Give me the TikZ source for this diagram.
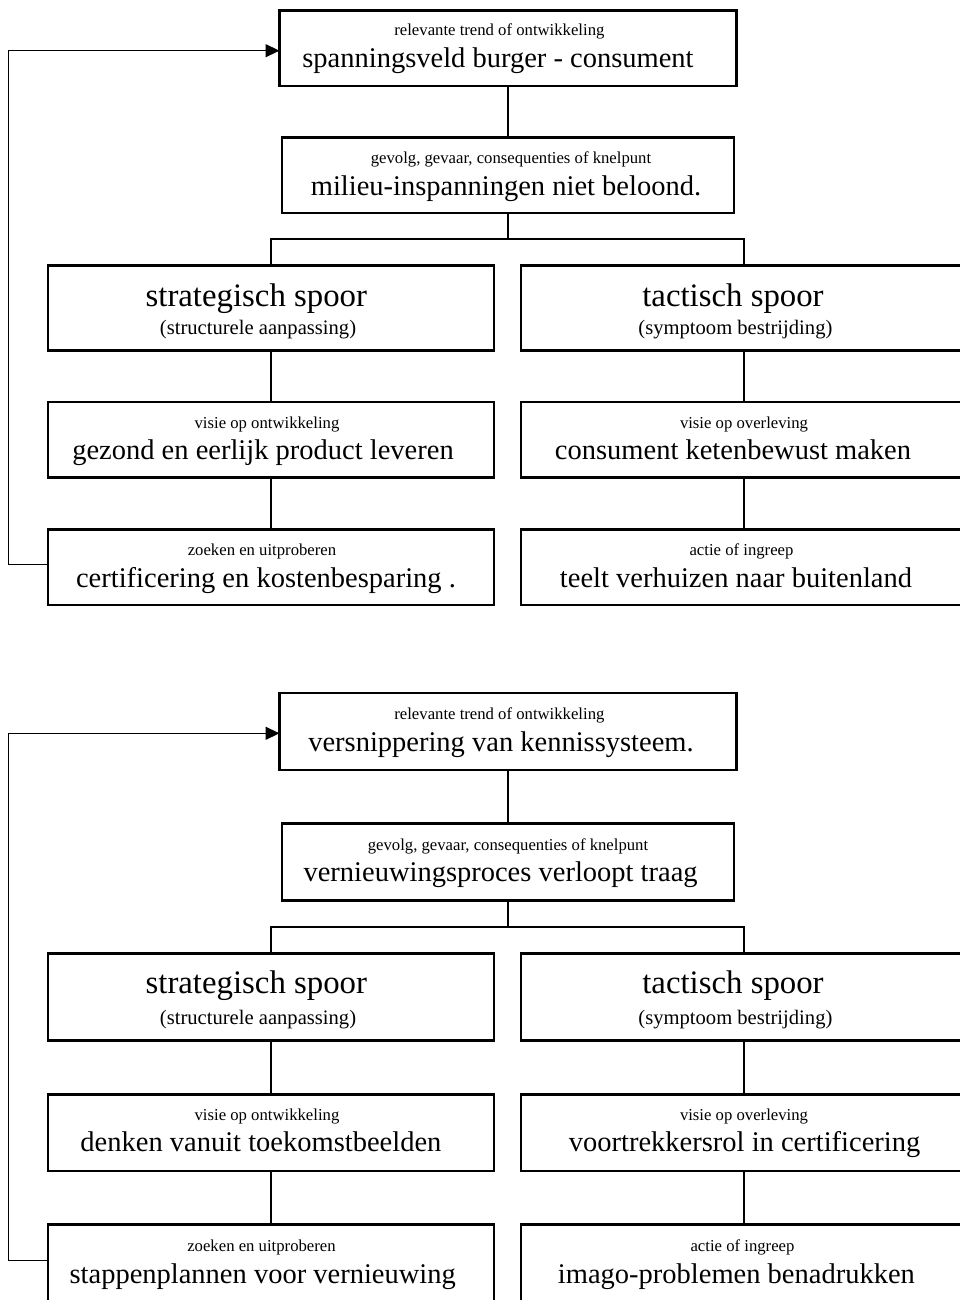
\documentclass[tikz,border=0pt]{standalone}
\usepackage{fontspec}
\setmainfont{Liberation Serif}
\usetikzlibrary{arrows.meta}
\tikzset{
  box/.style={draw, rectangle, line width=2.5pt, inner sep=0pt, outer sep=0pt, anchor=north west},
  conn/.style={line width=2pt},
  fb/.style={line width=1.3pt, -{Triangle[length=14pt,width=13pt]}},
  small/.style={anchor=base, inner sep=0pt, font=\fontsize{16.7}{20}\selectfont},
  big/.style={anchor=base, inner sep=0pt, font=\fontsize{28.5}{32}\selectfont},
  head/.style={anchor=base, inner sep=0pt, font=\fontsize{32.8}{38}\selectfont},
  sub/.style={anchor=base, inner sep=0pt, font=\fontsize{20.6}{24}\selectfont},
}
\begin{document}
\begin{tikzpicture}[x=1pt,y=-1pt]
\useasboundingbox (0,0) rectangle (959,1300);
% ---------- top diagram ----------
\node[box, minimum width=457pt, minimum height=75.5pt] (aB1) at (279.5,10.5) {};
\node[box, minimum width=452pt, minimum height=75.5pt] (aB2) at (282,137.5) {};
\node[box, minimum width=446pt, minimum height=85pt] (aS3) at (48,265.5) {};
\node[box, minimum width=446pt, minimum height=85pt] (aT3) at (521,265.5) {};
\node[box, minimum width=446pt, minimum height=75.5pt] (aS4) at (48,402) {};
\node[box, minimum width=446pt, minimum height=75.5pt] (aT4) at (521,402) {};
\node[box, minimum width=446pt, minimum height=75.5pt] (aS5) at (48,529.5) {};
\node[box, minimum width=446pt, minimum height=75.5pt] (aT5) at (521,529.5) {};

\node[small] (aB1s) at (499.4,36) {relevante trend of ontwikkeling};
\node[big] (aB1b) at (498,68) {spanningsveld burger - consument};
\node[small] (aB2s) at (511,163.5) {gevolg, gevaar, consequenties of knelpunt};
\node[big] (aB2b) at (506,195) {milieu-inspanningen niet beloond.};
\node[head] (aS3h) at (256.3,306) {strategisch spoor};
\node[sub] (aS3s) at (258,334) {(structurele aanpassing)};
\node[head] (aT3h) at (733,306) {tactisch spoor};
\node[sub] (aT3s) at (735.4,334) {(symptoom bestrijding)};
\node[small] (aS4s) at (267,428.3) {visie op ontwikkeling};
\node[big] (aS4b) at (263,459.3) {gezond en eerlijk product leveren};
\node[small] (aT4s) at (744,428.3) {visie op overleving};
\node[big] (aT4b) at (733,459.3) {consument ketenbewust maken};
\node[small] (aS5s) at (262,555) {zoeken en uitproberen};
\node[big] (aS5b) at (266,587.7) {certificering en kostenbesparing .};
\node[small] (aT5s) at (741.5,555) {actie of ingreep};
\node[big] (aT5b) at (736,587.7) {teelt verhuizen naar buitenland};

\coordinate (aJ) at (508,239);
\draw[conn] (aB1.south) -- (aB2.north);
\draw[conn] (aB2.south) -- (aB2.south |- aJ);
\draw[conn] (aS3.north) |- (aJ) -| (aT3.north);
\draw[conn] (aS3.south) -- (aS4.north);
\draw[conn] (aS4.south) -- (aS5.north);
\draw[conn] (aT3.south) -- (aT4.north);
\draw[conn] (aT4.south) -- (aT5.north);
\coordinate (aF1) at (8.5,564.5);
\coordinate (aF2) at (8.5,50.7);
\draw[fb] (aS5.west |- aF1) -- (aF1) -- (aF2) -- (aB1.west |- aF2);

% ---------- bottom diagram ----------
\node[box, minimum width=457pt, minimum height=77pt] (bB1) at (279.5,693) {};
\node[box, minimum width=452pt, minimum height=77pt] (bB2) at (282,823.5) {};
\node[box, minimum width=446pt, minimum height=87pt] (bS3) at (48,953.5) {};
\node[box, minimum width=446pt, minimum height=87pt] (bT3) at (521,953.5) {};
\node[box, minimum width=446pt, minimum height=76.5pt] (bS4) at (48,1094.5) {};
\node[box, minimum width=446pt, minimum height=76.5pt] (bT4) at (521,1094.5) {};
\node[box, minimum width=446pt, minimum height=78pt] (bS5) at (48,1224.5) {};
\node[box, minimum width=446pt, minimum height=78pt] (bT5) at (521,1224.5) {};

\node[small] (bB1s) at (499.4,719) {relevante trend of ontwikkeling};
\node[big] (bB1b) at (501,751.7) {versnippering van kennissysteem.};
\node[small] (bB2s) at (508,850) {gevolg, gevaar, consequenties of knelpunt};
\node[big] (bB2b) at (500.6,881.7) {vernieuwingsproces verloopt traag};
\node[head] (bS3h) at (256.3,993.5) {strategisch spoor};
\node[sub] (bS3s) at (258,1024.5) {(structurele aanpassing)};
\node[head] (bT3h) at (733,993.5) {tactisch spoor};
\node[sub] (bT3s) at (735.4,1024.5) {(symptoom bestrijding)};
\node[small] (bS4s) at (267,1120) {visie op ontwikkeling};
\node[big] (bS4b) at (260.9,1151.7) {denken vanuit toekomstbeelden};
\node[small] (bT4s) at (744,1120) {visie op overleving};
\node[big] (bT4b) at (744.6,1151.7) {voortrekkersrol in certificering};
\node[small] (bS5s) at (261.5,1251) {zoeken en uitproberen};
\node[big] (bS5b) at (262.7,1283.3) {stappenplannen voor vernieuwing};
\node[small] (bT5s) at (742.5,1251) {actie of ingreep};
\node[big] (bT5b) at (736.4,1283.3) {imago-problemen benadrukken};

\coordinate (bJ) at (508,926.5);
\draw[conn] (bB1.south) -- (bB2.north);
\draw[conn] (bB2.south) -- (bB2.south |- bJ);
\draw[conn] (bS3.north) |- (bJ) -| (bT3.north);
\draw[conn] (bS3.south) -- (bS4.north);
\draw[conn] (bS4.south) -- (bS5.north);
\draw[conn] (bT3.south) -- (bT4.north);
\draw[conn] (bT4.south) -- (bT5.north);
\coordinate (bF1) at (8.5,1260.7);
\coordinate (bF2) at (8.5,733.3);
\draw[fb] (bS5.west |- bF1) -- (bF1) -- (bF2) -- (bB1.west |- bF2);
\end{tikzpicture}
\end{document}
